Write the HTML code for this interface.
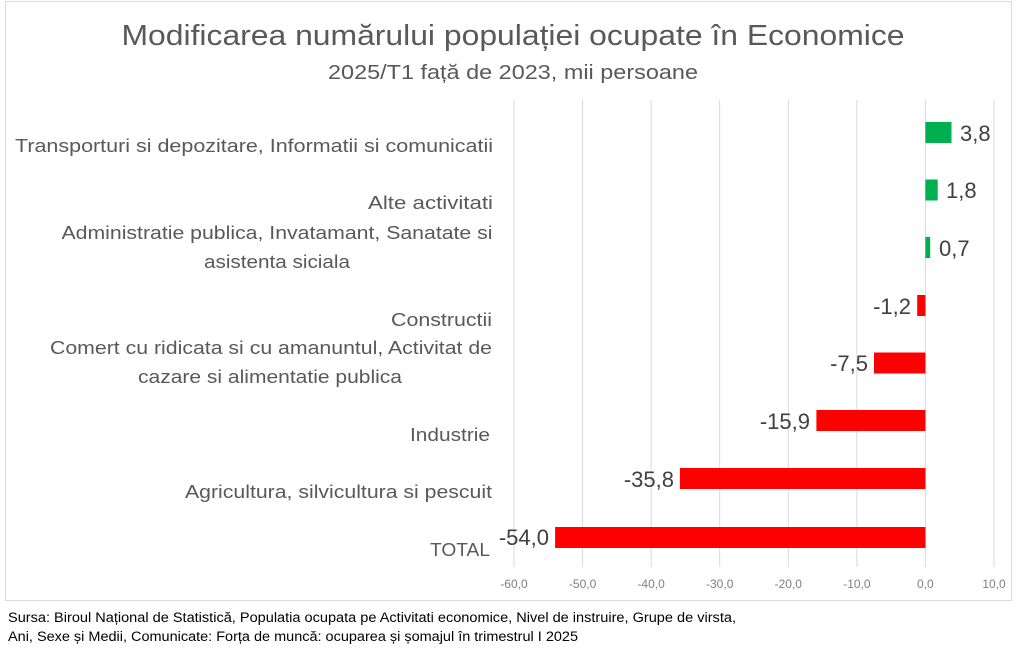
<!DOCTYPE html>
<html><head><meta charset="utf-8"><style>
html,body{margin:0;padding:0;background:#fff;}
svg{display:block;font-family:"Liberation Sans",sans-serif;}
</style></head><body>
<svg width="1023" height="653" viewBox="0 0 1023 653">
<rect x="5.5" y="1.5" width="1006" height="599" fill="#fff" stroke="#d9d9d9" stroke-width="1"/>
<text x="513" y="45" text-anchor="middle" font-size="29" fill="#595959" textLength="783" lengthAdjust="spacingAndGlyphs">Modificarea numărului populației ocupate în Economice</text>
<text x="513" y="79" text-anchor="middle" font-size="20" fill="#595959" textLength="370" lengthAdjust="spacingAndGlyphs">2025/T1 față de 2023, mii persoane</text>
<g stroke="#d9d9d9" stroke-width="1">
<line x1="514" y1="100" x2="514" y2="567"/>
<line x1="582.6" y1="100" x2="582.6" y2="567"/>
<line x1="651.1" y1="100" x2="651.1" y2="567"/>
<line x1="719.7" y1="100" x2="719.7" y2="567"/>
<line x1="788.3" y1="100" x2="788.3" y2="567"/>
<line x1="856.9" y1="100" x2="856.9" y2="567"/>
<line x1="925.4" y1="100" x2="925.4" y2="567"/>
<line x1="994" y1="100" x2="994" y2="567"/>
</g>
<g font-size="12" fill="#7f7f7f" text-anchor="middle">
<text x="514" y="588">-60,0</text><text x="582.6" y="588">-50,0</text><text x="651.1" y="588">-40,0</text><text x="719.7" y="588">-30,0</text><text x="788.3" y="588">-20,0</text><text x="856.9" y="588">-10,0</text><text x="925.4" y="588">0,0</text><text x="994" y="588">10,0</text>
</g>
<g>
<rect x="925.4" y="122" width="26.1" height="21" fill="#00b050"/>
<rect x="925.4" y="179.5" width="12.3" height="21" fill="#00b050"/>
<rect x="925.4" y="237" width="4.8" height="21" fill="#00b050"/>
<rect x="917.2" y="295" width="8.2" height="21" fill="#ff0000"/>
<rect x="874" y="352.5" width="51.4" height="21" fill="#ff0000"/>
<rect x="816.4" y="410" width="109" height="21" fill="#ff0000"/>
<rect x="679.9" y="468" width="245.5" height="21" fill="#ff0000"/>
<rect x="555.1" y="527" width="370.3" height="21" fill="#ff0000"/>
</g>
<g font-size="22" fill="#404040">
<text x="960" y="141">3,8</text>
<text x="946" y="198">1,8</text>
<text x="939" y="256">0,7</text>
<text x="911" y="314" text-anchor="end">-1,2</text>
<text x="868" y="371" text-anchor="end">-7,5</text>
<text x="810" y="429" text-anchor="end">-15,9</text>
<text x="674" y="487" text-anchor="end">-35,8</text>
<text x="549" y="545" text-anchor="end">-54,0</text>
</g>
<g font-size="18" fill="#595959">
<text x="493" y="152" text-anchor="end" textLength="478" lengthAdjust="spacingAndGlyphs">Transporturi si depozitare, Informatii si comunicatii</text>
<text x="493" y="209" text-anchor="end" textLength="125" lengthAdjust="spacingAndGlyphs">Alte activitati</text>
<text x="277" y="239" text-anchor="middle" textLength="431" lengthAdjust="spacingAndGlyphs">Administratie publica, Invatamant, Sanatate si</text>
<text x="277" y="268" text-anchor="middle" textLength="146" lengthAdjust="spacingAndGlyphs">asistenta siciala</text>
<text x="492" y="326" text-anchor="end" textLength="101" lengthAdjust="spacingAndGlyphs">Constructii</text>
<text x="271" y="354" text-anchor="middle" textLength="442" lengthAdjust="spacingAndGlyphs">Comert cu ridicata si cu amanuntul, Activitat de</text>
<text x="270" y="383" text-anchor="middle" textLength="264" lengthAdjust="spacingAndGlyphs">cazare si alimentatie publica</text>
<text x="490" y="441" text-anchor="end" textLength="80" lengthAdjust="spacingAndGlyphs">Industrie</text>
<text x="492" y="498" text-anchor="end" textLength="307" lengthAdjust="spacingAndGlyphs">Agricultura, silvicultura si pescuit</text>
<text x="490" y="556" text-anchor="end" textLength="60" lengthAdjust="spacingAndGlyphs">TOTAL</text>
</g>
<g font-size="13.5" fill="#000">
<text x="8" y="622" textLength="728" lengthAdjust="spacingAndGlyphs">Sursa: Biroul Național de Statistică, Populatia ocupata pe Activitati economice, Nivel de instruire, Grupe de virsta,</text>
<text x="8" y="641" textLength="570" lengthAdjust="spacingAndGlyphs">Ani, Sexe și Medii, Comunicate: Forța de muncă: ocuparea și șomajul în trimestrul I 2025</text>
</g>
</svg>
</body></html>
